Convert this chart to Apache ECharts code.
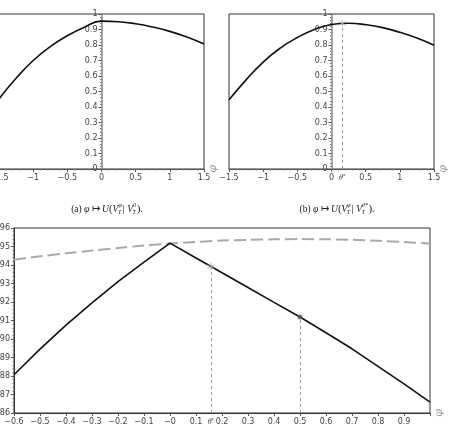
<!DOCTYPE html>
<html>
<head>
<meta charset="utf-8">
<script src="https://cdn.jsdelivr.net/npm/echarts@6/dist/echarts.min.js"></script>
<style>
  html, body { margin: 0; padding: 0; background: #fff; }
  #main { width: 449px; height: 432px; }
</style>
</head>
<body>
<div id="main"></div>
<script>
// top panels (a) and (b)
const phiTop = [-1.5, -1.25, -1, -0.75, -0.5, -0.25, 0, 0.25, 0.5, 0.75, 1, 1.25, 1.5];
const utilA = [0.452, 0.585, 0.700, 0.790, 0.860, 0.915, 0.954, 0.950, 0.937, 0.916, 0.888, 0.851, 0.806];
const utilB = [0.446, 0.575, 0.690, 0.780, 0.848, 0.900, 0.932, 0.940, 0.931, 0.912, 0.882, 0.845, 0.799];

// bottom panel (c)
const phiBottom = [-0.6, -0.5, -0.4, -0.3, -0.2, -0.1, 0, 0.1, 0.2, 0.3, 0.4, 0.5, 0.6, 0.7, 0.8, 0.9, 1.0];
const utilSolid = [0.8807, 0.8945, 0.9075, 0.9195, 0.9310, 0.9415, 0.9518, 0.9438, 0.9358, 0.9278, 0.9198, 0.9119, 0.9034, 0.8947, 0.8852, 0.8757, 0.8659];
const utilDashed = [0.9429, 0.9447, 0.9463, 0.9478, 0.9492, 0.9505, 0.9516, 0.9525, 0.9532, 0.9536, 0.9539, 0.9540, 0.9539, 0.9536, 0.9531, 0.9524, 0.9516];

const thetaStar = 0.157;
const starTop = 0.94;
const starBottom = 0.9392;
const dotPoint = [0.5, 0.9119];

const zip = (xs, ys) => xs.map((x, i) => [x, ys[i]]);
const minus = (s) => String(s).replace('-', '\u2212');

const chart = echarts.init(document.getElementById('main'));

const labelFont = { fontSize: 8, color: '#444', fontFamily: 'DejaVu Sans' };
const phiName = {
  name: '\u03c6', nameLocation: 'end', nameGap: 9, nameRotate: 90,
  nameTextStyle: { fontSize: 11, fontStyle: 'italic', fontFamily: 'DejaVu Serif', color: '#999', verticalAlign: 'middle' }
};
const starPath = 'path://M-0.5,-5L0.5,-5L0.5,5L-0.5,5Z' +
  'M-4.58,-2.07L-4.08,-2.93L4.58,2.07L4.08,2.93Z' +
  'M-4.08,2.93L-4.58,2.07L4.08,-2.93L4.58,-2.07Z';
const thetaLabel = {
  show: true, position: 'start', distance: 4,
  formatter: '{i|\u03b8}{s|*}',
  rich: {
    i: { fontSize: 8, fontStyle: 'italic', fontFamily: 'Liberation Serif', color: '#444' },
    s: { fontSize: 6, color: '#444', verticalAlign: 'top', padding: [0, 0, 4, 0] }
  }
};
const vDash = { type: [3, 3], color: '#999', width: 1 };

// top grids: 205 px wide over [-1.5, 1.5], so x = 0 sits 102.5 px in
const topZeroShift = -102.5;

function topX(idx) {
  return Object.assign({
    type: 'value', gridIndex: idx, min: -1.5, max: 1.5, interval: 0.5,
    axisLine: { onZero: false, lineStyle: { color: '#555' } },
    axisTick: { show: true, length: 3, lineStyle: { color: '#555' } },
    minorTick: { show: true, splitNumber: 5, length: 1.5, lineStyle: { color: '#777' } },
    splitLine: { show: false },
    axisLabel: Object.assign({ margin: 5, formatter: (v) => minus(v) }, labelFont)
  }, phiName);
}
function topY(idx) {
  return {
    type: 'value', gridIndex: idx, min: 0, max: 1, interval: 0.1,
    offset: topZeroShift,
    axisLine: { onZero: false, lineStyle: { color: '#888', width: 1.5 } },
    axisTick: { show: true, length: 3, lineStyle: { color: '#555' } },
    minorTick: { show: true, splitNumber: 5, length: 1.5, lineStyle: { color: '#777' } },
    splitLine: { show: false },
    axisLabel: Object.assign({ margin: 4, formatter: (v) => String(+v.toFixed(1)) }, labelFont)
  };
}

// caption built from pieces, measured with a canvas
function caption(cx, cy, parts) {
  const ctx = document.createElement('canvas').getContext('2d');
  const els = [];
  let x = 0;
  parts.forEach((p) => {
    const font = (p.i ? 'italic ' : '') + (p.size || 9.5) + 'px "Liberation Serif"';
    ctx.font = font;
    const w = ctx.measureText(p.t).width;
    els.push({ type: 'text', x: x, y: cy, style: { text: p.t, font: font, fill: '#222', verticalAlign: 'middle' } });
    let adv = w;
    if (p.sup || p.sub) {
      const sf = 'italic 6px "Liberation Serif"';
      ctx.font = sf;
      const sw = Math.max(ctx.measureText(p.sup || '').width, ctx.measureText(p.sub || '').width);
      if (p.sup) els.push({ type: 'text', x: x + w, y: cy - 3.5, style: { text: p.sup, font: sf, fill: '#222', verticalAlign: 'middle' } });
      if (p.sub) els.push({ type: 'text', x: x + w - 0.5, y: cy + 3, style: { text: p.sub, font: sf, fill: '#222', verticalAlign: 'middle' } });
      adv += sw + 0.5;
    }
    x += adv;
  });
  const off = cx - x / 2;
  els.forEach((e) => { e.x += off; });
  return els;
}

const capA = caption(107, 209, [
  { t: '(a) ' }, { t: '\u03c6', i: true }, { t: ' \u21a6 ' }, { t: 'U', i: true },
  { t: '(', size: 11 }, { t: 'V', i: true, sup: '\u03c6', sub: 'T' }, { t: '| ', size: 11 },
  { t: 'V', i: true, sup: '0', sub: 'T' }, { t: ')', size: 11 }, { t: '.' }
]);
const capB = caption(337, 209, [
  { t: '(b) ' }, { t: '\u03c6', i: true }, { t: ' \u21a6 ' }, { t: 'U', i: true },
  { t: '(', size: 11 }, { t: 'V', i: true, sup: '\u03c6', sub: 'T' }, { t: '| ', size: 11 },
  { t: 'V', i: true, sup: '\u03b8*', sub: 'T' }, { t: ')', size: 11 }, { t: '.' }
]);

const gridBase = { show: true, borderColor: '#333', borderWidth: 1, outerBoundsMode: 'none', containLabel: false };

const option = {
  animation: false,
  backgroundColor: '#fff',
  grid: [
    Object.assign({ left: -1, top: 14, width: 205, height: 155 }, gridBase),
    Object.assign({ left: 229, top: 14, width: 205, height: 155 }, gridBase),
    Object.assign({ left: 14, top: 228, width: 416, height: 185 }, gridBase)
  ],
  xAxis: [
    topX(0),
    topX(1),
    Object.assign({
      type: 'value', gridIndex: 2, min: -0.6, max: 1, interval: 0.1,
      axisLine: { onZero: false, lineStyle: { color: '#333' } },
      axisTick: { show: true, length: 3, lineStyle: { color: '#555' } },
      splitLine: { show: false },
      axisLabel: Object.assign({
        margin: 5,
        formatter: (v) => {
          if (Math.abs(v) < 1e-9) return '\u22120';
          if (Math.abs(v - 1) < 1e-9) return '';
          return minus(+v.toFixed(1));
        }
      }, labelFont)
    }, phiName)
  ],
  yAxis: [
    topY(0),
    topY(1),
    {
      type: 'value', gridIndex: 2, min: 0.86, max: 0.96, interval: 0.01,
      axisLine: { onZero: false, lineStyle: { color: '#333' } },
      axisTick: { show: true, length: 3, lineStyle: { color: '#555' } },
      minorTick: { show: true, splitNumber: 5, length: 1.5, lineStyle: { color: '#777' } },
      splitLine: { show: false },
      axisLabel: Object.assign({ margin: 4, formatter: (v) => v.toFixed(2) }, labelFont)
    }
  ],
  series: [
    {
      type: 'line', xAxisIndex: 0, yAxisIndex: 0, data: zip(phiTop, utilA),
      smooth: true, showSymbol: false, lineStyle: { color: '#111', width: 1.6 }
    },
    {
      type: 'line', xAxisIndex: 1, yAxisIndex: 1, data: zip(phiTop, utilB),
      smooth: true, showSymbol: false, lineStyle: { color: '#111', width: 1.6 },
      markLine: {
        silent: true, symbol: 'none', lineStyle: vDash, label: thetaLabel,
        data: [[{ coord: [thetaStar, 0] }, { coord: [thetaStar, starTop] }]]
      }
    },
    {
      type: 'scatter', xAxisIndex: 1, yAxisIndex: 1, data: [[thetaStar, starTop]],
      symbol: starPath, symbolSize: 8, itemStyle: { color: '#aaa' }, z: 5
    },
    {
      type: 'line', xAxisIndex: 2, yAxisIndex: 2, data: zip(phiBottom, utilDashed),
      smooth: 0.3, showSymbol: false, lineStyle: { color: '#aaa', width: 2, type: [12, 5] }
    },
    {
      type: 'line', xAxisIndex: 2, yAxisIndex: 2, data: zip(phiBottom, utilSolid),
      showSymbol: false, lineStyle: { color: '#111', width: 1.6 },
      markLine: {
        silent: true, symbol: 'none', lineStyle: vDash,
        data: [
          [{ coord: [thetaStar, 0.86], label: thetaLabel }, { coord: [thetaStar, starBottom] }],
          [{ coord: [dotPoint[0], 0.86], label: { show: false } }, { coord: dotPoint }]
        ]
      }
    },
    {
      type: 'scatter', xAxisIndex: 2, yAxisIndex: 2, data: [[thetaStar, starBottom]],
      symbol: starPath, symbolSize: 8, itemStyle: { color: '#aaa' }, z: 5
    },
    {
      type: 'scatter', xAxisIndex: 2, yAxisIndex: 2, data: [dotPoint],
      symbol: 'circle', symbolSize: 5, itemStyle: { color: '#555' }, z: 5
    }
  ],
  graphic: capA.concat(capB)
};

chart.setOption(option);
</script>
</body>
</html>
